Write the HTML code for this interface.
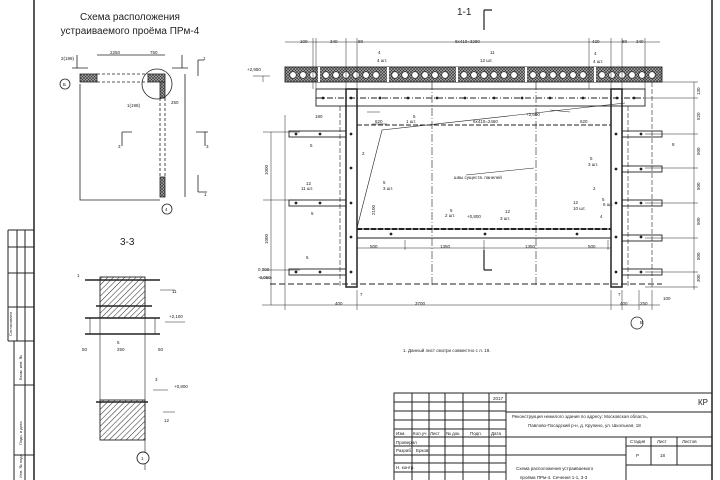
<!DOCTYPE html>
<html><head><meta charset="utf-8"><style>
html,body{margin:0;padding:0;background:#fff}
svg{display:block}
text{font-family:"Liberation Sans","DejaVu Sans",sans-serif;fill:#222}
</style></head><body>
<svg width="720" height="480" viewBox="0 0 720 480" xmlns="http://www.w3.org/2000/svg">
<defs>
<pattern id="h" width="4" height="4" patternUnits="userSpaceOnUse" patternTransform="rotate(45)"><line x1="0" y1="0" x2="0" y2="4" stroke="#333" stroke-width="1.1"/></pattern>
<pattern id="x" width="3" height="3" patternUnits="userSpaceOnUse"><rect width="3" height="3" fill="#aaa"/><path d="M0 0L3 3M3 0L0 3" stroke="#333" stroke-width="0.6"/></pattern>
</defs>
<g stroke="#222" fill="none" stroke-width="1">
<line x1="34" y1="0" x2="34" y2="480" stroke-width="1.5"/>
<line x1="712" y1="0" x2="712" y2="480" stroke-width="1.5"/>
<path d="M8 230H34M8 230V341M17 230V341M25 230V480M8 247H34M8 273H34M8 307H34M8 341H34M14 341V480M14 385H34M14 455H34"/>
<rect x="394" y="393" width="318" height="90"/>
<path d="M506 393V483M412 393V483M429 393V483M445 393V483M463 393V483M489 393V483"/>
<path d="M394 402H506M394 411H506M394 420H506M394 429H506M394 437H712M394 446H506M394 455H626M394 463H506M394 472H506M506 412H712M626 437V483M651 437V465M677 437V465M626 446H712M626 465H712"/>
</g>
<g font-size="4.5">
<text x="493" y="400">2017</text>
<text x="396" y="435">Изм.</text><text x="413" y="435">Кол.уч</text><text x="430" y="435">Лист</text><text x="446" y="435">№ док.</text><text x="470" y="435">Подп.</text><text x="491" y="435">Дата</text>
<text x="396" y="444">Проверил</text><text x="396" y="452">Разраб.</text><text x="416" y="452">Ерков</text><text x="396" y="469">Н. контр.</text>
<text x="512" y="418">Реконструкция нежилого здания по адресу: Московская область,</text>
<text x="528" y="427">Павлово-Посадский р-н, д. Крупино, ул. Школьная, 18</text>
<text x="630" y="443">Стадия</text><text x="657" y="443">Лист</text><text x="682" y="443">Листов</text>
<text x="636" y="457">Р</text><text x="660" y="457">18</text>
<text x="516" y="470">Схема расположения устраиваемого</text>
<text x="520" y="479">проёма ПРм-4. Сечения 1-1, 3-3</text>
<text x="403" y="352">1.   Данный лист смотри совместно с л. 19.</text>
</g>
<text x="698" y="405" font-size="8">КР</text>
<g font-size="4" transform="rotate(-90)">
<text x="-336" y="12">Согласовано</text><text x="-380" y="22">Взам. инв. №</text><text x="-445" y="22">Подп. и дата</text><text x="-478" y="22">Инв. № подл.</text>
</g>

<text x="130" y="20" font-size="10" text-anchor="middle">Схема расположения</text>
<text x="130" y="34" font-size="10" text-anchor="middle">устраиваемого проёма ПРм-4</text>
<g stroke="#222" fill="none" stroke-width="0.8">
<rect x="80" y="74" width="17" height="8" fill="url(#x)"/>
<rect x="148" y="74" width="17" height="8" fill="url(#x)"/>
<rect x="160" y="82" width="5" height="16" fill="url(#x)"/>
<rect x="160" y="177" width="5" height="20" fill="url(#x)"/>
<path d="M97 74H148M97 82H148" stroke-dasharray="3,2"/>
<path d="M160 98V177M165 98V177" stroke-dasharray="3,2"/>
<circle cx="157" cy="84" r="15"/>
<circle cx="65" cy="84" r="5"/><circle cx="167" cy="209" r="5"/>
<path d="M80 84V200H160M97 55H148M148 55H165M185 74V197"/>
<path d="M72 68H88M77 55V68M172 68H188M182 55V68M198 60V76M198 60H204M198 175V192M198 192H207M122 132H132M122 132V146M196 132H208M205 132V146"/>
</g>
<g font-size="4.5"><text x="110" y="54">2250</text><text x="150" y="54">750</text><text x="61" y="60">2(198)</text><text x="127" y="107">1(198)</text><text x="171" y="104">250</text><text x="118" y="148">3</text><text x="206" y="148">3</text><text x="203" y="60">1</text><text x="204" y="196">1</text><text x="63" y="86">Б</text><text x="165" y="211">4</text></g>

<text x="120" y="245" font-size="10">3-3</text>
<g stroke="#222" stroke-width="0.9">
<rect x="100" y="277" width="45" height="41" fill="url(#h)"/>
<rect x="100" y="400" width="45" height="40" fill="url(#h)"/>
<path d="M85 280H160M85 318H160M85 334H160M96 402H148M96 306H152" stroke-width="1.6" fill="none"/>
<path d="M100 318V400M145 318V470M90 318V334M155 318V334" fill="none" stroke-width="0.6"/>
<circle cx="143" cy="458" r="6" fill="#fff"/>
<path d="M160 290H175M165 322H185M153 390H168M163 412H175" fill="none" stroke-width="0.5"/>
</g>
<g font-size="4.5"><text x="77" y="277">1</text><text x="172" y="293">11</text><text x="169" y="318">+2,100</text><text x="117" y="344">5</text><text x="82" y="351">50</text><text x="117" y="351">250</text><text x="158" y="351">50</text><text x="174" y="388">+0,800</text><text x="155" y="381">3</text><text x="164" y="422">12</text><text x="141" y="460">1</text></g>

<text x="457" y="15" font-size="10">1-1</text>
<g stroke="#222" fill="none" stroke-width="0.9">
<path d="M484 10V30M484 10H492M484 250V270M484 270H492" stroke-width="1.2"/>
<rect x="285" y="67" width="377" height="15" fill="url(#x)"/>
<g fill="#fff" stroke-width="0.7">
<circle cx="293" cy="75" r="3.3"/><circle cx="303" cy="75" r="3.3"/><circle cx="313" cy="75" r="3.3"/><circle cx="326" cy="75" r="3.3"/><circle cx="336" cy="75" r="3.3"/><circle cx="346" cy="75" r="3.3"/><circle cx="356" cy="75" r="3.3"/><circle cx="366" cy="75" r="3.3"/><circle cx="376" cy="75" r="3.3"/><circle cx="395" cy="75" r="3.3"/><circle cx="405" cy="75" r="3.3"/><circle cx="415" cy="75" r="3.3"/><circle cx="425" cy="75" r="3.3"/><circle cx="435" cy="75" r="3.3"/><circle cx="445" cy="75" r="3.3"/><circle cx="464" cy="75" r="3.3"/><circle cx="474" cy="75" r="3.3"/><circle cx="484" cy="75" r="3.3"/><circle cx="494" cy="75" r="3.3"/><circle cx="504" cy="75" r="3.3"/><circle cx="514" cy="75" r="3.3"/><circle cx="533" cy="75" r="3.3"/><circle cx="543" cy="75" r="3.3"/><circle cx="553" cy="75" r="3.3"/><circle cx="563" cy="75" r="3.3"/><circle cx="573" cy="75" r="3.3"/><circle cx="583" cy="75" r="3.3"/><circle cx="602" cy="75" r="3.3"/><circle cx="612" cy="75" r="3.3"/><circle cx="622" cy="75" r="3.3"/><circle cx="632" cy="75" r="3.3"/><circle cx="642" cy="75" r="3.3"/><circle cx="652" cy="75" r="3.3"/>
</g>
<path d="M319 67V82M388 67V82M457 67V82M526 67V82M595 67V82" stroke="#fff" stroke-width="2"/>
<rect x="316" y="89" width="329" height="17"/>
<path d="M316 98H645" stroke-dasharray="6,2,1,2"/>
<rect x="346" y="89" width="11" height="198" stroke-width="1.5"/>
<rect x="611" y="89" width="11" height="198" stroke-width="1.5"/>
<rect x="357" y="229" width="254" height="9" stroke-width="1"/>
<path d="M357 229H611" stroke-width="2" stroke-dasharray="5,2"/>
<path d="M357 125H611" stroke-dasharray="5,2"/>
<path d="M432 82V287M536 82V287" stroke-dasharray="8,2,1,2" stroke-width="0.6"/>
<path d="M340 106V287M628 106V287M652 82V287" stroke-dasharray="5,2" stroke-width="0.6"/>
<rect x="289" y="131" width="57" height="6"/><rect x="289" y="200" width="57" height="6"/><rect x="289" y="269" width="57" height="6"/>
<rect x="622" y="131" width="40" height="6"/><rect x="622" y="166" width="40" height="6"/><rect x="622" y="200" width="40" height="6"/><rect x="622" y="235" width="40" height="6"/><rect x="622" y="269" width="40" height="6"/>
<path d="M270 284H662" stroke-dasharray="6,3"/>
<path d="M357 228L382 130L625 103" stroke-width="0.6"/>
<path d="M285 42H660M313 38V89M316 38V89M346 38V89M357 38V89M589 38V89M611 38V89M622 38V89M645 38V89" stroke-width="0.5"/>
<path d="M262 305H660M271 132V305M357 290V310M611 290V310M622 290V310M639 290V310M652 290V310" stroke-width="0.5"/>
<path d="M694 82V290M640 82H698M645 98H698M645 134H698M645 168H698M645 203H698M645 238H698M645 272H698M645 287H698" stroke-width="0.5"/>
<path d="M263 132H300M263 200H300M263 270H300M253 76H270M263 76V82M260 278H272M285 115V310" stroke-width="0.5"/>
<path d="M357 248H611M405 240V250M484 240V250M608 240V250" stroke-width="0.5"/>
<path d="M466 175L534 168M367 112H380M372 124H387M550 110L570 112" stroke-width="0.5"/>
</g>
<g fill="#222">
<circle cx="323" cy="98" r="1.4"/><circle cx="351" cy="98" r="1.4"/><circle cx="380" cy="98" r="1.4"/><circle cx="408" cy="98" r="1.4"/><circle cx="437" cy="98" r="1.4"/><circle cx="465" cy="98" r="1.4"/><circle cx="494" cy="98" r="1.4"/><circle cx="522" cy="98" r="1.4"/><circle cx="550" cy="98" r="1.4"/><circle cx="583" cy="98" r="1.4"/><circle cx="617" cy="98" r="1.4"/><circle cx="634" cy="98" r="1.4"/>
<circle cx="296" cy="134" r="1.4"/><circle cx="320" cy="134" r="1.4"/><circle cx="351" cy="134" r="1.4"/><circle cx="296" cy="203" r="1.4"/><circle cx="320" cy="203" r="1.4"/><circle cx="351" cy="203" r="1.4"/><circle cx="296" cy="272" r="1.4"/><circle cx="320" cy="272" r="1.4"/><circle cx="351" cy="272" r="1.4"/><circle cx="351" cy="168" r="1.4"/><circle cx="351" cy="237" r="1.4"/>
<circle cx="616" cy="134" r="1.4"/><circle cx="641" cy="134" r="1.4"/><circle cx="616" cy="169" r="1.4"/><circle cx="641" cy="169" r="1.4"/><circle cx="616" cy="203" r="1.4"/><circle cx="641" cy="203" r="1.4"/><circle cx="616" cy="237" r="1.4"/><circle cx="641" cy="237" r="1.4"/><circle cx="616" cy="272" r="1.4"/><circle cx="641" cy="272" r="1.4"/>
<circle cx="391" cy="234" r="1.4"/><circle cx="485" cy="234" r="1.4"/><circle cx="577" cy="234" r="1.4"/>
</g>
<circle cx="637" cy="323" r="6" fill="#fff" stroke="#222" stroke-width="0.8"/>
<g font-size="4.5">
<text x="300" y="43">100</text><text x="330" y="43">340</text><text x="358" y="43">80</text><text x="455" y="43">8х410=3280</text><text x="592" y="43">420</text><text x="622" y="43">80</text><text x="636" y="43">340</text>
<text x="247" y="71">+2,950</text><text x="378" y="54">4</text><text x="377" y="62">4 шт.</text><text x="490" y="54">11</text><text x="480" y="62">12 шт.</text><text x="594" y="55">4</text><text x="593" y="63">4 шт.</text>
<text x="413" y="118">5</text><text x="406" y="123">1 шт.</text><text x="473" y="123">6х410=2460</text><text x="526" y="116">+2,600</text><text x="375" y="123">620</text><text x="580" y="123">620</text><text x="315" y="118">180</text>
<text x="310" y="147">5</text><text x="311" y="215">5</text><text x="306" y="259">5</text><text x="306" y="185">12</text><text x="301" y="190">11 шт.</text><text x="362" y="155">2</text><text x="383" y="184">5</text><text x="383" y="190">3 шт.</text>
<text x="454" y="179">швы существ. панелей</text><text x="450" y="212">5</text><text x="445" y="217">2 шт.</text><text x="467" y="218">+0,800</text><text x="505" y="213">12</text><text x="500" y="220">3 шт.</text><text x="370" y="248">500</text><text x="440" y="248">1350</text><text x="525" y="248">1350</text><text x="588" y="248">500</text><text x="415" y="305">3700</text><text x="335" y="305">400</text><text x="620" y="305">400</text><text x="640" y="305">250</text><text x="663" y="300">100</text><text x="640" y="324">В</text>
<text x="590" y="160">5</text><text x="588" y="166">3 шт.</text><text x="593" y="190">2</text><text x="573" y="204">12</text><text x="573" y="210">10 шт.</text><text x="602" y="201">5</text><text x="603" y="206">6 шт.</text><text x="672" y="146">8</text><text x="600" y="218">4</text>
<text x="258" y="271">0,000</text><text x="258" y="279">-0,050</text><text x="360" y="296">7</text><text x="618" y="296">7</text>
</g>
<g font-size="4.5" transform="rotate(-90)">
<text x="-95" y="700">130</text><text x="-120" y="700">520</text><text x="-155" y="700">500</text><text x="-190" y="700">500</text><text x="-225" y="700">500</text><text x="-260" y="700">500</text><text x="-282" y="700">300</text><text x="-175" y="268">1000</text><text x="-244" y="268">1000</text><text x="-215" y="375">2100</text>
</g>
</svg>
</body></html>
